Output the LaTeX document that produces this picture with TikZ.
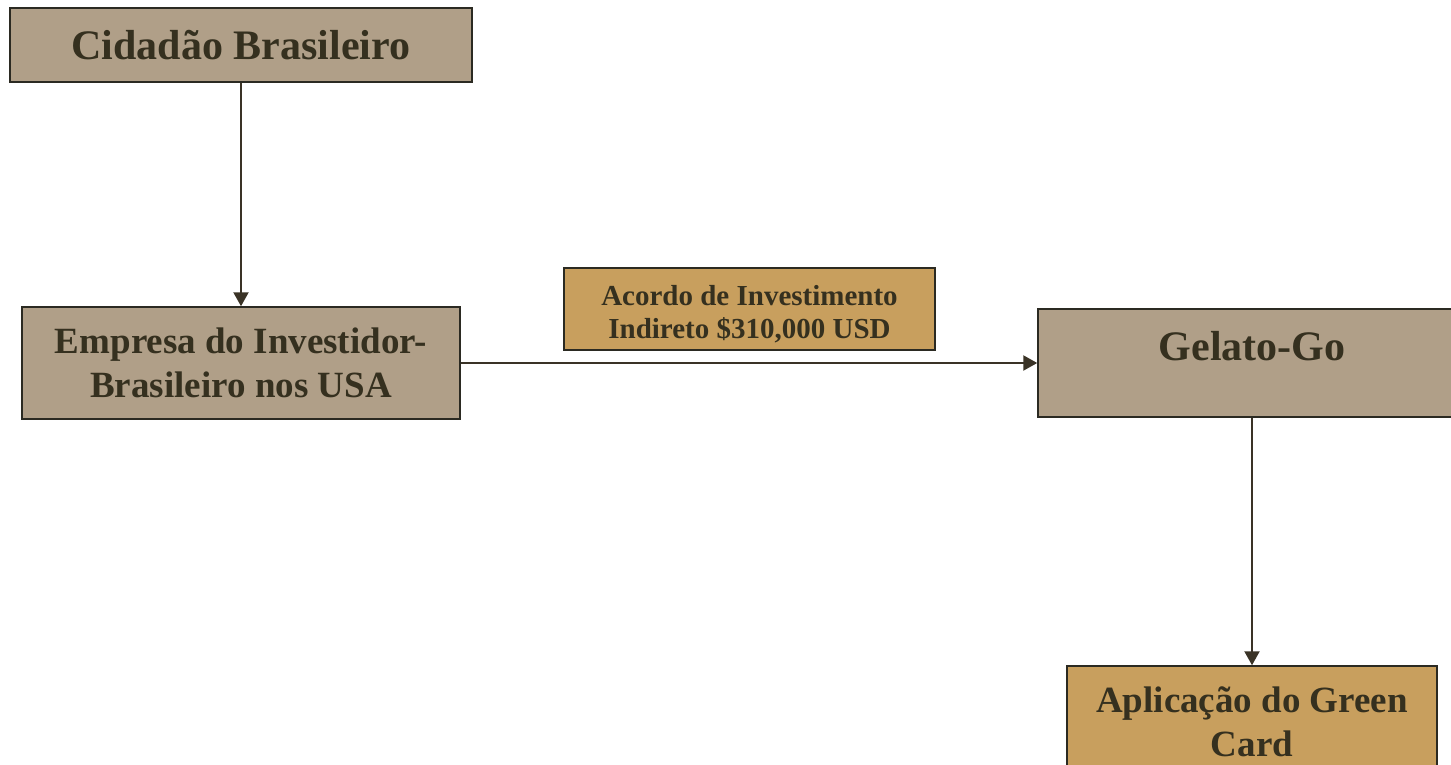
\documentclass[tikz,border=0pt]{standalone}
\usepackage{fontspec}
\setmainfont{Liberation Serif}
\usetikzlibrary{arrows.meta}
\definecolor{boxgrey}{HTML}{B09F88}
\definecolor{boxgold}{HTML}{C89F5E}
\definecolor{txt}{HTML}{35301F}
\definecolor{edge}{HTML}{2B2A22}
\definecolor{conn}{HTML}{3A3326}
\tikzset{
  box/.style={draw=edge, line width=1.5pt, rectangle, inner sep=0pt, text=txt, align=center, font=\bfseries},
  greybox/.style={box, fill=boxgrey},
  goldbox/.style={box, fill=boxgold},
  conn/.style={draw=conn, line width=2.2pt, -{Triangle[length=14pt,width=15pt]}},
  big/.style={font=\bfseries\fontsize{42}{50}\selectfont},
  mid/.style={font=\bfseries\fontsize{37}{44}\selectfont},
  small/.style={font=\bfseries\fontsize{29}{33}\selectfont},
  plaintext/.style={text=txt, inner sep=0pt, align=center},
}
\begin{document}
\begin{tikzpicture}[x=1pt,y=-1pt]
\useasboundingbox (0,0) rectangle (1451,765);
\clip (0,0) rectangle (1451,765);
\fill[white] (0,0) rectangle (1451,765);
\node[greybox, big, minimum width=462pt, minimum height=74pt] (A) at (241,45) {Cidadão Brasileiro};
\node[greybox, mid, minimum width=438pt, minimum height=112pt] (B) at (241,363) {Empresa do Investidor-\\Brasileiro nos USA};
\node[greybox, minimum width=428pt, minimum height=108pt] (C) at (1252,363) {};
\node[plaintext, big] (Ct) at (1252,346) {Gelato-Go};
\node[goldbox, mid, minimum width=370pt, minimum height=112pt] (D) at (1252,722) {Aplicação do Green\\Card};
\node[goldbox, minimum width=371pt, minimum height=82pt] (L) at (749.5,309) {};
\node[plaintext, small] (Lt) at (749.5,314) {Acordo de Investimento\\Indireto \$310,000 USD};
\draw[conn] (A.south) -- (B.north);
\draw[conn] (B.east) -- (C.west);
\draw[conn] (C.south) -- (D.north);
\end{tikzpicture}
\end{document}
